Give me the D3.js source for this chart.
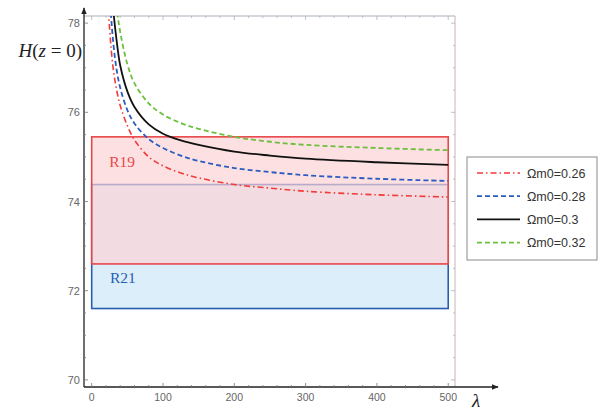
<!DOCTYPE html>
<html>
<head>
<meta charset="utf-8">
<script src="https://cdn.jsdelivr.net/npm/d3@7"></script>
<style>
  body { margin: 0; background: #fff; }
  svg { display: block; }
</style>
</head>
<body>
<svg id="chart" width="607" height="411"></svg>
<script>
// lambda samples (x) and H(z=0) for each Omega_m0
var lambdas = [20, 25, 30, 35, 40, 50, 60, 80, 100, 125, 150, 200, 250, 300, 400, 500];
var h026 = [79.5, 77.9, 77.0, 76.5, 76.15, 75.7, 75.38, 75.0, 74.8, 74.64, 74.53, 74.38, 74.3, 74.23, 74.15, 74.1];
var h028 = [80.2, 78.7, 77.6, 76.95, 76.55, 76.05, 75.75, 75.4, 75.2, 75.03, 74.91, 74.75, 74.66, 74.59, 74.51, 74.46];
var h030 = [81.0, 79.6, 78.35, 77.6, 77.05, 76.47, 76.12, 75.73, 75.52, 75.37, 75.27, 75.12, 75.03, 74.96, 74.88, 74.82];
var h032 = [82.0, 80.5, 79.2, 78.35, 77.8, 77.08, 76.65, 76.2, 75.95, 75.76, 75.63, 75.45, 75.34, 75.27, 75.2, 75.15];
var seriesNames = ["Ωm0=0.26", "Ωm0=0.28", "Ωm0=0.3", "Ωm0=0.32"];

// H0 bands: R21 and R19 (low, high)
var bandNames = ["R21", "R19"];
var bandLow = [71.6, 72.6];
var bandHigh = [74.38, 75.45];

var xTicks = [0, 100, 200, 300, 400, 500];
var yTicks = [70, 72, 74, 76, 78];

var svg = d3.select("#chart");
var pLeft = 84, pRight = 455, pTop = 16, pBottom = 387;

var x = d3.scaleLinear().domain([-10.8, 509.5]).range([pLeft, pRight]);
var y = d3.scaleLinear().domain([69.84, 78.16]).range([pBottom, pTop]);

var styles = [
  { color: "#f23b3b", dash: "6,3,1.5,3", width: 1.6 },
  { color: "#2b5cbf", dash: "5,3", width: 1.8 },
  { color: "#111111", dash: null, width: 1.8 },
  { color: "#6cbf3c", dash: "5,3", width: 1.8 }
];
var bandStyles = [
  { fill: "#dceefa", fillOpacity: 1, stroke: "#2a5cb0", text: "#2a5cb0" },
  { fill: "#fcd1d4", fillOpacity: 0.68, stroke: "#e8474a", text: "#e84848" }
];

var defs = svg.append("defs");
defs.append("clipPath").attr("id", "plotClip")
  .append("rect")
  .attr("x", pLeft).attr("y", pTop)
  .attr("width", pRight - pLeft).attr("height", pBottom - pTop);
defs.append("marker")
  .attr("id", "arrow")
  .attr("viewBox", "0 0 10 10")
  .attr("refX", 9).attr("refY", 5)
  .attr("markerWidth", 7).attr("markerHeight", 7)
  .attr("markerUnits", "userSpaceOnUse")
  .attr("orient", "auto")
  .append("path")
  .attr("d", "M0,1 L10,5 L0,9 Z")
  .attr("fill", "#222");

// frame (top and right)
svg.append("line")
  .attr("x1", pLeft).attr("x2", pRight).attr("y1", pTop).attr("y2", pTop)
  .attr("stroke", "#aab2bb").attr("stroke-width", 1.2);
svg.append("line")
  .attr("x1", pRight).attr("x2", pRight).attr("y1", pTop).attr("y2", pBottom)
  .attr("stroke", "#c9b4b6").attr("stroke-width", 1);

// bands
var bandG = svg.append("g");
bandNames.forEach(function(name, i) {
  bandG.append("rect")
    .attr("x", x(0))
    .attr("y", y(bandHigh[i]))
    .attr("width", x(500) - x(0))
    .attr("height", y(bandLow[i]) - y(bandHigh[i]))
    .attr("fill", bandStyles[i].fill)
    .attr("fill-opacity", bandStyles[i].fillOpacity)
    .attr("stroke", bandStyles[i].stroke)
    .attr("stroke-width", 1.6);
});
bandG.append("text")
  .attr("x", x(24.5)).attr("y", y(74.78))
  .attr("font-family", "Liberation Serif, DejaVu Serif, serif")
  .attr("font-size", "15.5px")
  .attr("fill", bandStyles[1].text)
  .text(bandNames[1]);
bandG.append("text")
  .attr("x", x(25.5)).attr("y", y(72.17))
  .attr("font-family", "Liberation Serif, DejaVu Serif, serif")
  .attr("font-size", "15.5px")
  .attr("fill", bandStyles[0].text)
  .text(bandNames[0]);

// curves
var allSeries = [h026, h028, h030, h032];
var line = d3.line()
  .x(function(d) { return x(d[0]); })
  .y(function(d) { return y(d[1]); })
  .curve(d3.curveCatmullRom.alpha(0.5));
var curveG = svg.append("g").attr("clip-path", "url(#plotClip)");
allSeries.forEach(function(vals, i) {
  var pts = lambdas.map(function(l, k) { return [l, vals[k]]; });
  curveG.append("path")
    .attr("d", line(pts))
    .attr("fill", "none")
    .attr("stroke", styles[i].color)
    .attr("stroke-width", styles[i].width)
    .attr("stroke-dasharray", styles[i].dash);
});

// frame ticks
var topTicks = d3.range(0, 501, 20);
svg.append("g").selectAll("line").data(topTicks).enter().append("line")
  .attr("x1", function(d) { return x(d); }).attr("x2", function(d) { return x(d); })
  .attr("y1", pTop).attr("y2", function(d) { return pTop + (d % 100 === 0 ? 4 : 2); })
  .attr("stroke", "#aab2bb").attr("stroke-width", 0.8);
var sideTicks = d3.range(70, 78.01, 0.5);
svg.append("g").selectAll("line").data(sideTicks).enter().append("line")
  .attr("x1", pRight).attr("x2", function(d) { return pRight - (d % 2 === 0 ? 4 : 2); })
  .attr("y1", function(d) { return y(d); }).attr("y2", function(d) { return y(d); })
  .attr("stroke", "#aab2bb").attr("stroke-width", 0.8);

// axes
svg.append("line")
  .attr("x1", pLeft).attr("x2", 498).attr("y1", pBottom).attr("y2", pBottom)
  .attr("stroke", "#222").attr("stroke-width", 1.3)
  .attr("marker-end", "url(#arrow)");
svg.append("line")
  .attr("x1", pLeft).attr("x2", pLeft).attr("y1", pBottom).attr("y2", 8)
  .attr("stroke", "#222").attr("stroke-width", 1.3)
  .attr("marker-end", "url(#arrow)");

var xMinor = d3.range(0, 501, 20);
svg.append("g").selectAll("line").data(xMinor).enter().append("line")
  .attr("x1", function(d) { return x(d); }).attr("x2", function(d) { return x(d); })
  .attr("y1", pBottom).attr("y2", function(d) { return pBottom - (d % 100 === 0 ? 4 : 2); })
  .attr("stroke", "#777").attr("stroke-width", 0.8);
var yMinor = d3.range(70, 78.01, 0.5);
svg.append("g").selectAll("line").data(yMinor).enter().append("line")
  .attr("x1", pLeft).attr("x2", function(d) { return pLeft + (d % 2 === 0 ? 4 : 2); })
  .attr("y1", function(d) { return y(d); }).attr("y2", function(d) { return y(d); })
  .attr("stroke", "#777").attr("stroke-width", 0.8);

svg.append("g").selectAll("text").data(xTicks).enter().append("text")
  .attr("x", function(d) { return x(d); })
  .attr("y", 401)
  .attr("text-anchor", "middle")
  .attr("font-family", "Liberation Sans, Arial, sans-serif")
  .attr("font-size", "10.5px")
  .attr("fill", "#666")
  .text(function(d) { return d; });
svg.append("g").selectAll("text").data(yTicks).enter().append("text")
  .attr("x", 80)
  .attr("y", function(d) { return y(d) + 4; })
  .attr("text-anchor", "end")
  .attr("font-family", "Liberation Sans, Arial, sans-serif")
  .attr("font-size", "11px")
  .attr("fill", "#666")
  .text(function(d) { return d; });

// axis labels
svg.append("text")
  .attr("x", 82).attr("y", 57)
  .attr("text-anchor", "end")
  .attr("font-family", "Liberation Serif, DejaVu Serif, serif")
  .attr("font-size", "19px")
  .attr("fill", "#222")
  .html('<tspan font-style="italic">H</tspan>(<tspan font-style="italic">z</tspan> = 0)');
svg.append("text")
  .attr("x", 472).attr("y", 407)
  .attr("font-family", "Liberation Serif, DejaVu Serif, serif")
  .attr("font-style", "italic")
  .attr("font-size", "19px")
  .attr("fill", "#222")
  .text("λ");

// legend
var legend = svg.append("g");
legend.append("rect")
  .attr("x", 467).attr("y", 157).attr("width", 130).attr("height", 103)
  .attr("fill", "#fff").attr("stroke", "#8a8a8a").attr("stroke-width", 1);
seriesNames.forEach(function(name, i) {
  var ly = 173 + i * 23.2;
  legend.append("line")
    .attr("x1", 477).attr("x2", 520).attr("y1", ly).attr("y2", ly)
    .attr("stroke", styles[i].color)
    .attr("stroke-width", styles[i].width)
    .attr("stroke-dasharray", styles[i].dash);
  legend.append("text")
    .attr("x", 527).attr("y", ly + 4.5)
    .attr("font-family", "Liberation Sans, Arial, sans-serif")
    .attr("font-size", "12.5px")
    .attr("fill", "#333")
    .text(name);
});
</script>
</body>
</html>
